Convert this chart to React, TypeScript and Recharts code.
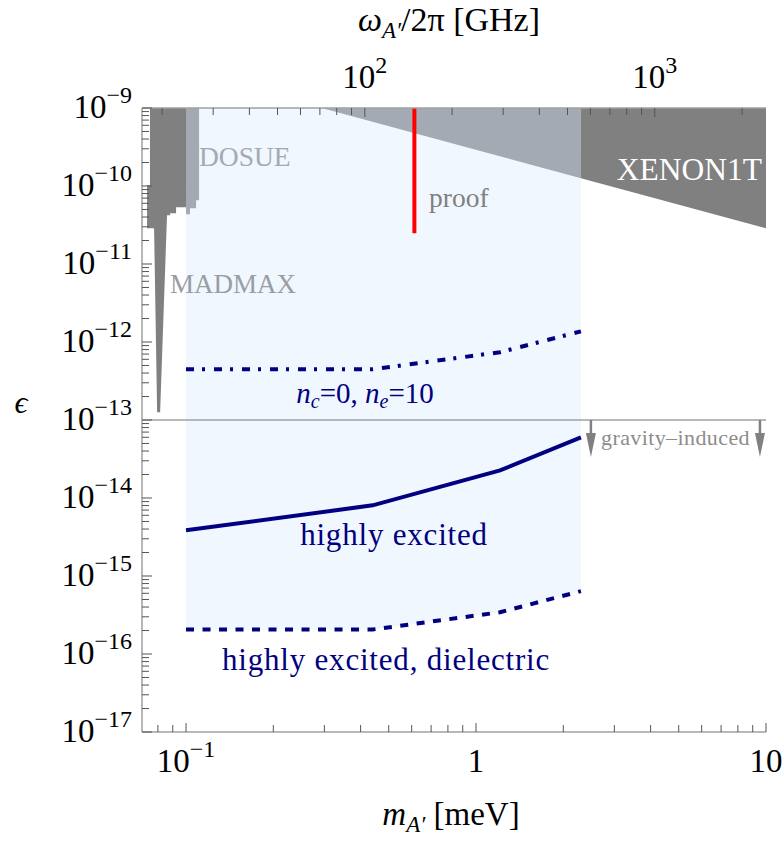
import {
  Area,
  ComposedChart,
  Line,
  ReferenceLine,
  Scatter,
  XAxis,
  YAxis,
} from "recharts";

// m_A' [meV] -> f [GHz]
const GHZ_PER_MEV = 241.8;

const massDomain = [0.0705, 10];
const freqDomain = massDomain.map((m) => m * GHZ_PER_MEV);
const epsDomain = [1e-17, 1e-9];

// tick values
const massTicks = [0.08, 0.09, 0.1, 0.2, 0.3, 0.4, 0.5, 0.6, 0.7, 0.8, 0.9, 1, 2, 3, 4, 5, 6, 7, 8, 9, 10];
const freqTicks = [20, 30, 40, 50, 60, 70, 80, 90, 100, 200, 300, 400, 500, 600, 700, 800, 900, 1000, 2000];
const epsDecades = [-17, -16, -15, -14, -13, -12, -11, -10];
const epsMantissas = [1, 2, 3, 4, 5, 6, 7, 8, 9];
const epsTicks = [...epsDecades.flatMap((d) => epsMantissas.map((k) => k * Math.pow(10, d))), 1e-9];

// projected sensitivities
const curveMass = [0.1, 0.44, 1.21, 2.3];
const epsGround = [4.47e-13, 4.47e-13, 7.4e-13, 1.37e-12]; // n_c=0, n_e=10
const epsExcited = [3.85e-15, 8.05e-15, 2.26e-14, 6.0e-14];
const epsDielectric = [2.06e-16, 2.06e-16, 3.43e-16, 6.4e-16];

// XENON1T bound
const xenonMass = [0.2937, 2.3, 10];
const xenonEps = [1e-9, 1.26e-10, 2.87e-11];

// haloscopes (MADMAX + others), dark gray
const haloMass = [0.0734, 0.0751, 0.0751, 0.0776, 0.0795, 0.0814, 0.086, 0.0882, 0.0882, 0.0924, 0.0924, 0.1];
const haloLow = [2.87e-11, 2.87e-11, 2.87e-11, 2.87e-11, 1.26e-13, 1.26e-13, 4.21e-11, 4.21e-11, 4.47e-11, 4.47e-11, 5.33e-11, 5.33e-11];
const haloHigh = [1.02e-10, 1.02e-10, 1e-9, 1e-9, 1e-9, 1e-9, 1e-9, 1e-9, 1e-9, 1e-9, 1e-9, 1e-9];

// DOSUE
const dosueMass = [0.1, 0.1032, 0.1032, 0.1083, 0.1083, 0.1109];
const dosueLow = [4.34e-11, 4.34e-11, 5.18e-11, 5.18e-11, 6.56e-11, 6.56e-11];

// proof of principle
const proofMass = 0.613;
const proofEps = [1e-9, 2.48e-11];

// gravity-induced
const gravityEps = 1e-13;
const gravityArrowMass = [2.49, 9.53];

const NAVY = "#000080";
const FRAME = "#a0a0a0";
const TICK = "#555";
const FONT = "Liberation Serif";

const PL = 142;
const PR = 766;
const PT = 108;
const PB = 732;

const curve = (eps: number[]) => curveMass.map((m, i) => ({ m, eps: eps[i] }));
const groundData = curve(epsGround);
const excitedData = curve(epsExcited);
const dielectricData = curve(epsDielectric);
const bandData = curveMass.map((m, i) => ({ m, band: [epsDielectric[i], 1e-9] }));
const xenonLeft = xenonMass.slice(0, 2).map((m, i) => ({ m, band: [xenonEps[i], 1e-9] }));
const xenonRight = xenonMass.slice(1).map((m, i) => ({ m, band: [xenonEps[i + 1], 1e-9] }));
const haloData = haloMass.map((m, i) => ({ m, band: [haloLow[i], haloHigh[i]] }));
const dosueData = dosueMass.map((m, i) => ({ m, band: [dosueLow[i], 1e-9] }));
const proofData = proofEps.map((eps) => ({ m: proofMass, eps }));
const arrowData = gravityArrowMass.map((m) => ({ m, eps: gravityEps }));
const freqEdgeData = freqDomain.map((f) => ({ f, eps: epsDomain[1] }));

// log position along the top axis, for the tick marks drawn above the shading
const freqX = (f: number) =>
  PL + ((PR - PL) * Math.log(f / freqDomain[0])) / Math.log(freqDomain[1] / freqDomain[0]);

const isMajor = (v: number) => {
  const l = Math.log10(v);
  return Math.abs(l - Math.round(l)) < 1e-6;
};

const Pow = ({ x, y, base, exp, anchor }: any) => (
  <text x={x} y={y} textAnchor={anchor} fontFamily={FONT} fontSize={33} fill="#000">
    <tspan>{base}</tspan>
    {exp && (
      <tspan fontSize={24} dy={-15}>
        {exp}
      </tspan>
    )}
  </text>
);

const MassTick = (p: any) => {
  const v = p.payload.value;
  const x = p.x;
  const major = isMajor(v);
  const e = Math.round(Math.log10(v));
  return (
    <g>
      <line x1={x} x2={x} y1={PB} y2={PB - (major ? 9 : 7)} stroke={TICK} />
      {major && (e === -1 ? (
        <Pow x={x} y={772} base="10" exp="−1" anchor="middle" />
      ) : (
        <Pow x={x} y={772} base={e === 0 ? "1" : "10"} anchor="middle" />
      ))}
    </g>
  );
};

const FreqTick = (p: any) => {
  const v = p.payload.value;
  const x = p.x;
  if (!isMajor(v)) return <g />;
  return <Pow x={x} y={88} base="10" exp={String(Math.round(Math.log10(v)))} anchor="middle" />;
};

const EpsTick = (p: any) => {
  const v = p.payload.value;
  const y = p.y;
  const major = isMajor(v);
  return (
    <g>
      <line x1={PL} x2={PL + (major ? 10 : 7)} y1={y} y2={y} stroke={TICK} />
      {major && <Pow x={132} y={y + 10} base="10" exp={"−" + Math.abs(Math.round(Math.log10(v)))} anchor="end" />}
    </g>
  );
};

const Arrow = (p: any) => {
  const { cx, cy } = p;
  return (
    <g>
      <line x1={cx} x2={cx} y1={cy} y2={cy + 20} stroke="#808080" strokeWidth={2.5} />
      <path d={`M${cx - 5},${cy + 13} L${cx + 5},${cy + 13} L${cx},${cy + 37} Z`} fill="#808080" />
    </g>
  );
};

const areaProps = {
  xAxisId: "m",
  yAxisId: "eps",
  dataKey: "band",
  type: "linear" as const,
  stroke: "none",
  fillOpacity: 1,
  dot: false,
  activeDot: false,
  isAnimationActive: false,
};

export default function App() {
  return (
    <div style={{ position: "absolute", left: 0, top: 0, width: 783, height: 846 }}>
      <ComposedChart width={783} height={846} margin={{ top: 0, right: 783 - PR, bottom: 0, left: 0 }}>
        <Area {...areaProps} data={bandData} fill="#f0f7fe" />
        <Area {...areaProps} data={xenonLeft} fill="#a4aab4" />
        <Area {...areaProps} data={xenonRight} fill="#808080" />
        <Area {...areaProps} data={dosueData} fill="#a4aab4" />
        <Area {...areaProps} data={haloData} fill="#808080" />

        <ReferenceLine xAxisId="m" yAxisId="eps" y={gravityEps} stroke={FRAME} strokeWidth={1.5} />

        {/* keeps the GHz axis tied to its domain */}
        <Line xAxisId="f" yAxisId="eps" data={freqEdgeData} dataKey="eps" stroke="none" dot={false} activeDot={false} isAnimationActive={false} />

        <Line xAxisId="m" yAxisId="eps" data={proofData} dataKey="eps" stroke="#ff0000" strokeWidth={4} dot={false} isAnimationActive={false} />
        <Line xAxisId="m" yAxisId="eps" data={groundData} dataKey="eps" stroke={NAVY} strokeWidth={4} strokeDasharray="8 8 3 9" dot={false} isAnimationActive={false} />
        <Line xAxisId="m" yAxisId="eps" data={excitedData} dataKey="eps" stroke={NAVY} strokeWidth={4} dot={false} isAnimationActive={false} />
        <Line xAxisId="m" yAxisId="eps" data={dielectricData} dataKey="eps" stroke={NAVY} strokeWidth={4} strokeDasharray="8 8.5" dot={false} isAnimationActive={false} />
        <Scatter xAxisId="m" yAxisId="eps" data={arrowData} dataKey="eps" shape={<Arrow />} isAnimationActive={false} />

        <XAxis
          xAxisId="m"
          dataKey="m"
          type="number"
          scale="log"
          domain={massDomain}
          allowDataOverflow
          ticks={massTicks}
          interval={0}
          height={846 - PB}
          tick={<MassTick />}
          tickLine={false}
          axisLine={{ stroke: FRAME, strokeWidth: 1.5 }}
        />
        <XAxis
          xAxisId="f"
          dataKey="f"
          orientation="top"
          type="number"
          scale="log"
          domain={freqDomain}
          allowDataOverflow
          ticks={freqTicks}
          interval={0}
          height={PT}
          tick={<FreqTick />}
          tickLine={false}
          axisLine={{ stroke: FRAME, strokeWidth: 1.5 }}
        />
        <YAxis
          yAxisId="eps"
          type="number"
          scale="log"
          domain={epsDomain}
          allowDataOverflow
          ticks={epsTicks}
          interval={0}
          width={PL}
          tick={<EpsTick />}
          tickLine={false}
          axisLine={{ stroke: FRAME, strokeWidth: 1.5 }}
        />
        <YAxis
          yAxisId="r"
          orientation="right"
          type="number"
          domain={[0, 1]}
          width={0}
          tick={false}
          tickLine={false}
          axisLine={{ stroke: FRAME, strokeWidth: 1.5 }}
        />
      </ComposedChart>

      <svg width={783} height={846} style={{ position: "absolute", left: 0, top: 0, pointerEvents: "none" }}>
        {freqTicks.map((f) => (
          <line key={f} x1={freqX(f)} x2={freqX(f)} y1={PT} y2={PT + (isMajor(f) ? 9 : 7)} stroke={TICK} />
        ))}

        <text x={449} y={31} textAnchor="middle" fontFamily={FONT} fontSize={34}>
          <tspan fontStyle="italic">ω</tspan>
          <tspan fontStyle="italic" fontSize={23} dy={7}>A′</tspan>
          <tspan dy={-7}>/2π [GHz]</tspan>
        </text>
        <text x={451} y={825} textAnchor="middle" fontFamily={FONT} fontSize={33}>
          <tspan fontStyle="italic">m</tspan>
          <tspan fontStyle="italic" fontSize={23} dy={7}>A′</tspan>
          <tspan dy={-7}> [meV]</tspan>
        </text>
        <text x={21} y={413} textAnchor="middle" fontFamily={FONT} fontSize={32} fontStyle="italic">ϵ</text>

        <text x={199} y={166} fontFamily={FONT} fontSize={27.5} fill="#a4aab4">DOSUE</text>
        <text x={170} y={293} fontFamily={FONT} fontSize={27} fill="#9a9ea4">MADMAX</text>
        <text x={429} y={207} fontFamily={FONT} fontSize={27.5} fill="#808080">proof</text>
        <text x={762} y={180} textAnchor="end" fontFamily={FONT} fontSize={31.5} fill="#fff">XENON1T</text>
        <text x={601} y={445} fontFamily={FONT} fontSize={22} letterSpacing={0.4} fill="#8c8c8c">gravity–induced</text>

        <text x={365} y={403} textAnchor="middle" fontFamily={FONT} fontSize={29} fill={NAVY}>
          <tspan fontStyle="italic">n</tspan>
          <tspan fontStyle="italic" fontSize={20} dy={5}>c</tspan>
          <tspan dy={-5}>=0, </tspan>
          <tspan fontStyle="italic">n</tspan>
          <tspan fontStyle="italic" fontSize={20} dy={5}>e</tspan>
          <tspan dy={-5}>=10</tspan>
        </text>
        <text x={394} y={545} textAnchor="middle" fontFamily={FONT} fontSize={31} letterSpacing={0.8} fill={NAVY}>highly excited</text>
        <text x={386} y={670} textAnchor="middle" fontFamily={FONT} fontSize={31} letterSpacing={0.8} fill={NAVY}>highly excited, dielectric</text>
      </svg>
    </div>
  );
}
